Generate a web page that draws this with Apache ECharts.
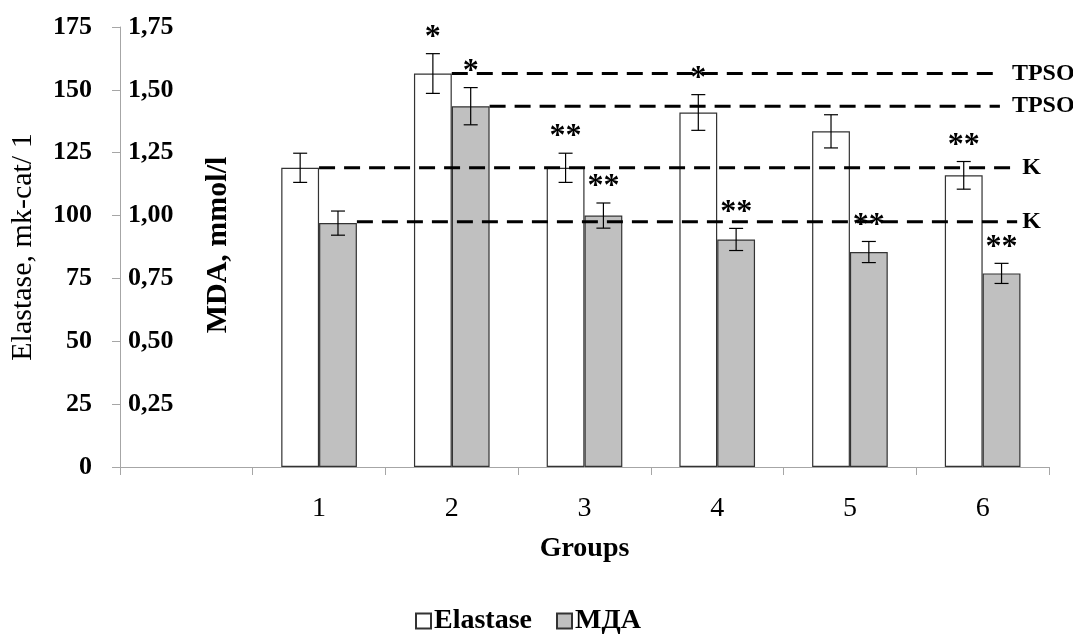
<!DOCTYPE html>
<html><head><meta charset="utf-8">
<script src="https://cdn.jsdelivr.net/npm/echarts@6/dist/echarts.min.js"></script>
<style>html,body{margin:0;padding:0;background:#fff}#c{width:1073px;height:634px}</style>
</head><body><div id="c"></div>
<script>
// ---- data ----
const categories = ['', '1', '2', '3', '4', '5', '6'];
const elastase = [null, 119, 156.5, 119, 141, 133.5, 116];
const elastaseErr = [null, 5.8, 7.9, 5.8, 7.1, 6.6, 5.5];
const elastaseSig = ['', '', '*', '**', '*', '', '**'];
const mda = [null, 0.97, 1.435, 1.00, 0.905, 0.855, 0.77];
const mdaErr = [null, 0.048, 0.074, 0.05, 0.044, 0.042, 0.04];
const mdaSig = ['', '', '*', '**', '**', '**', '**'];
// reference lines (value, y-axis, starting group, ending x on 0..7 scale, label)
const refLabels = ['TPSO', 'TPSO', 'K', 'K'];
const refValues = [156.5, 1.435, 119, 0.975];
const refAxis = [0, 1, 0, 1];
const refGroup = [2, 2, 1, 1];
const refEnd = [6.63, 6.63, 6.76, 6.76];

const FONT = '"Liberation Serif", "Times New Roman", serif';
const BAR_GAP_CAT = 0.43;
const barFrac = (1 - BAR_GAP_CAT) / 2;

function errSeries(name, vals, errs, sigs, side, yIdx) {
  const data = [];
  vals.forEach((v, i) => { if (v != null) data.push([i, v, errs[i]]); });
  return {
    name: name + '_err', type: 'custom', xAxisIndex: 0, yAxisIndex: yIdx, z: 5,
    data: data, silent: true,
    renderItem: function (params, api) {
      const i = api.value(0), v = api.value(1), e = api.value(2);
      const bw = api.size([1, 0])[0];
      const c = api.coord([i, v]);
      const x = c[0] + side * bw * barFrac / 2;
      const top = api.coord([i, v + e])[1];
      const bot = api.coord([i, v - e])[1];
      const h = 7;
      const ls = { stroke: '#000', lineWidth: 1.2 };
      return {
        type: 'group', children: [
          { type: 'line', shape: { x1: x, y1: top, x2: x, y2: bot }, style: ls },
          { type: 'line', shape: { x1: x - h, y1: top, x2: x + h, y2: top }, style: ls },
          { type: 'line', shape: { x1: x - h, y1: bot, x2: x + h, y2: bot }, style: ls },
          { type: 'text', x: x, y: top, style: { text: sigs[i], fontFamily: FONT, fontWeight: 'bold', fontSize: 32, align: 'center', verticalAlign: 'bottom', fill: '#000' } }
        ]
      };
    }
  };
}

const refSeries = refLabels.map((lab, k) => {
  const start = refGroup[k] + 0.5 + (refAxis[k] === 1 ? barFrac : 0);
  return {
    name: 'ref' + k, type: 'line', xAxisIndex: 1, yAxisIndex: refAxis[k], z: 6,
    data: [[start, refValues[k]], [refEnd[k], refValues[k]]],
    symbol: 'none', silent: true,
    lineStyle: { color: '#000', width: 3, type: [16, 9] },
    endLabel: { show: true, formatter: lab, fontFamily: FONT, fontWeight: 'bold', fontSize: 24, color: '#000', distance: lab === 'K' ? 5 : 12 }
  };
});

const chart = echarts.init(document.getElementById('c'), null, { renderer: 'canvas' });
chart.setOption({
  animation: false,
  backgroundColor: '#fff',
  textStyle: { fontFamily: FONT, color: '#000' },
  grid: { left: 120, right: 24, top: 27, bottom: 167, containLabel: false },
  legend: {
    data: ['Elastase', 'МДА'], left: 410, top: 602, icon: 'rect',
    itemWidth: 15, itemHeight: 15, itemGap: 24,
    textStyle: { fontFamily: FONT, fontWeight: 'bold', fontSize: 28, color: '#000', padding: [0, 0, 0, -2] }
  },
  xAxis: [{
    type: 'category', data: categories, boundaryGap: true,
    axisLine: { lineStyle: { color: '#a6a6a6', width: 1 } },
    axisTick: { show: true, interval: 0, length: 8, lineStyle: { color: '#a6a6a6' } },
    axisLabel: { fontFamily: FONT, fontSize: 28, color: '#000', margin: 28, interval: 0 },
    name: 'Groups', nameLocation: 'middle', nameGap: 68,
    nameTextStyle: { fontFamily: FONT, fontWeight: 'bold', fontSize: 28, color: '#000' }
  }, {
    type: 'value', min: 0, max: 7, show: false
  }],
  yAxis: [{
    type: 'value', min: 0, max: 175, interval: 25, position: 'left',
    axisLine: { show: true, lineStyle: { color: '#a6a6a6' } },
    axisTick: { show: true, length: 8, lineStyle: { color: '#a6a6a6' } },
    splitLine: { show: false },
    axisLabel: { fontFamily: FONT, fontWeight: 'bold', fontSize: 26, color: '#000', margin: 28 },
    name: 'Elastase, mk-cat/ 1', nameLocation: 'middle', nameGap: 82,
    nameTextStyle: { fontFamily: FONT, fontSize: 30, color: '#000' }
  }, {
    type: 'value', min: 0, max: 1.75, interval: 0.25, position: 'left',
    axisLine: { show: false }, axisTick: { show: false }, splitLine: { show: false },
    axisLabel: { inside: true, margin: 8, showMinLabel: false, fontFamily: FONT, fontWeight: 'bold', fontSize: 26, color: '#000',
      formatter: v => v === 0 ? '' : v.toFixed(2).replace('.', ',') }
  }],
  graphic: [{
    type: 'text', x: 218, y: 245, rotation: Math.PI / 2,
    style: { text: 'MDA, mmol/l', fontFamily: FONT, fontWeight: 'bold', fontSize: 30, fill: '#000', align: 'center', verticalAlign: 'middle' }
  }],
  series: [
    { name: 'Elastase', type: 'bar', data: elastase, xAxisIndex: 0, yAxisIndex: 0,
      barGap: '0%', barCategoryGap: (BAR_GAP_CAT * 100) + '%',
      itemStyle: { color: '#ffffff', borderColor: '#333', borderWidth: 1.2 } },
    { name: 'МДА', type: 'bar', data: mda, xAxisIndex: 0, yAxisIndex: 1,
      barGap: '0%', barCategoryGap: (BAR_GAP_CAT * 100) + '%',
      itemStyle: { color: '#c0c0c0', borderColor: '#333', borderWidth: 1.2 } },
    errSeries('Elastase', elastase, elastaseErr, elastaseSig, -1, 0),
    errSeries('МДА', mda, mdaErr, mdaSig, 1, 1),
    ...refSeries
  ]
});
</script></body></html>
